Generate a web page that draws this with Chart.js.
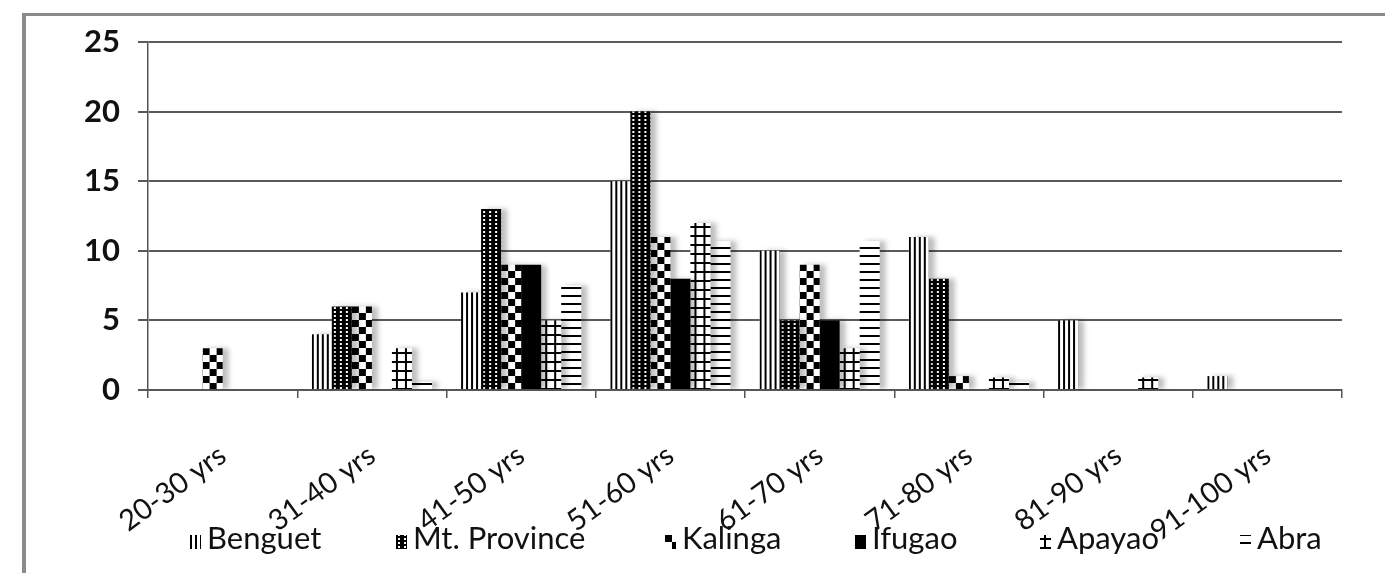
<!DOCTYPE html>
<html>
<head>
<meta charset="utf-8">
<script src="https://cdn.jsdelivr.net/npm/chart.js@4.4.1/dist/chart.umd.min.js"></script>
<style>
  html, body { margin: 0; padding: 0; background: #fff; }
  #wrap { position: relative; width: 1385px; height: 573px; overflow: hidden; }
  #frame { position: absolute; left: 22px; top: 13px; width: 1420px; height: 558px;
           border-left: 4px solid #8a8a8a; border-top: 3px solid #8a8a8a; border-bottom: 1px solid #ddd; }
  #c { position: absolute; left: 0; top: 0; }
</style>
</head>
<body>
<div id="wrap">
  <div id="frame"></div>
  <canvas id="c" width="1385" height="573"></canvas>
</div>
<script>
const AGE_GROUPS  = ['20-30 yrs', '31-40 yrs', '41-50 yrs', '51-60 yrs', '61-70 yrs', '71-80 yrs', '81-90 yrs', '91-100 yrs'];
const BENGUET     = [0, 4, 7, 15, 10, 11, 5, 1];
const MT_PROVINCE = [0, 6, 13, 20, 5, 8, 0, 0];
const KALINGA     = [3, 6, 9, 11, 9, 1, 0, 0];
const IFUGAO      = [0, 0, 9, 8, 5, 0, 0, 0];
const APAYAO      = [0, 3, 5, 12, 3, 0.9, 0.9, 0];
const ABRA        = [0, 0.6, 7.5, 10.7, 10.7, 0.6, 0, 0];
const Y_TICKS     = [0, 5, 10, 15, 20, 25];

const CAT_PCT = 0.805;
const LEGEND_X = [190, 396, 665, 855, 1040, 1240];

// small tiles that mimic the old Excel fill patterns
function tile(kind) {
  const t = document.createElement('canvas');
  const g = t.getContext('2d');
  const sz = { vlines: [5, 5], dots: [6, 4], checker: [14, 14], grid: [20, 9], hlines: [4, 8] }[kind];
  t.width = sz[0]; t.height = sz[1];
  g.fillStyle = '#fff'; g.fillRect(0, 0, t.width, t.height);
  g.fillStyle = '#000';
  if (kind === 'vlines') g.fillRect(0, 0, 2, 5);
  if (kind === 'dots') { g.fillRect(0, 0, 6, 4); g.fillStyle = '#fff'; g.fillRect(2, 1, 2, 2); }
  if (kind === 'checker') { g.fillRect(0, 0, 7, 7); g.fillRect(7, 7, 7, 7); }
  if (kind === 'grid') { g.fillRect(0, 7, 20, 2); g.fillRect(4, 0, 2, 9); g.fillRect(13, 0, 2, 9); }
  if (kind === 'hlines') g.fillRect(0, 1, 4, 2);
  return t;
}
const TILES = {};
['vlines', 'dots', 'checker', 'grid', 'hlines'].forEach(k => TILES[k] = tile(k));

function fillAt(ctx2d, kind, left, bottom) {
  if (kind === 'solid') return '#000';
  const p = ctx2d.createPattern(TILES[kind], 'repeat');
  p.setTransform(new DOMMatrix().translate(left, bottom - TILES[kind].height * 40));
  return p;
}

function barFill(kind) {
  return c => {
    const chart = c.chart;
    const xs = chart.scales.x, ys = chart.scales.y;
    if (c.dataIndex === undefined || !xs || !ys) return kind === 'solid' ? '#000' : '#888';
    const groupW = xs.width / AGE_GROUPS.length * CAT_PCT;
    const bw = groupW / 6;
    const left = xs.getPixelForValue(c.dataIndex) - groupW / 2 + c.datasetIndex * bw;
    return fillAt(chart.ctx, kind, left, ys.getPixelForValue(0));
  };
}

const SERIES = [
  ['Benguet', BENGUET, 'vlines'],
  ['Mt. Province', MT_PROVINCE, 'dots'],
  ['Kalinga', KALINGA, 'checker'],
  ['Ifugao', IFUGAO, 'solid'],
  ['Apayao', APAYAO, 'grid'],
  ['Abra', ABRA, 'hlines']
];

const shadowPlugin = {
  id: 'barShadow',
  beforeDatasetsDraw(chart) {
    const g = chart.ctx;
    g.save();
    g.shadowColor = 'rgba(0,0,0,0.25)';
    g.shadowOffsetX = 6;
    g.shadowBlur = 5;
  },
  afterDatasetsDraw(chart) { chart.ctx.restore(); }
};

const legendPlugin = {
  id: 'bottomLegend',
  afterDraw(chart) {
    const g = chart.ctx;
    g.save();
    g.font = '31px Lato';
    g.textBaseline = 'alphabetic';
    chart.data.datasets.forEach((ds, i) => {
      const x = LEGEND_X[i], base = 549;
      g.fillStyle = fillAt(g, ds.kind, x, base);
      g.fillRect(x, base - 14, 11, 14);
      g.fillStyle = '#111';
      g.fillText(ds.label, x + 17, base);
    });
    g.restore();
  }
};

new Chart(document.getElementById('c'), {
  type: 'bar',
  data: {
    labels: AGE_GROUPS,
    datasets: SERIES.map(([label, data, kind]) => ({
      label, data, kind,
      backgroundColor: barFill(kind),
      borderWidth: 0,
      barPercentage: 1,
      categoryPercentage: CAT_PCT
    }))
  },
  options: {
    responsive: false,
    animation: false,
    layout: { padding: { top: 42, right: 43, bottom: 0, left: 0 } },
    plugins: { legend: { display: false }, tooltip: { enabled: false } },
    scales: {
      x: {
        grid: { drawOnChartArea: false, color: '#555', lineWidth: 1.5, tickLength: 8, offset: true },
        border: { color: '#555', width: 1.5 },
        ticks: { color: '#111', font: { family: 'Lato', size: 29 }, minRotation: 36, maxRotation: 36, autoSkip: false, padding: 40 },
        afterFit: s => { s.height = 183; }
      },
      y: {
        min: 0, max: 25,
        afterBuildTicks: s => { s.ticks = Y_TICKS.map(v => ({ value: v })); },
        grid: { color: '#5a5a5a', lineWidth: 2, tickLength: 10 },
        border: { color: '#555', width: 1.5 },
        ticks: { color: '#111', font: { family: 'Lato', size: 31, weight: 'bold' }, padding: 18 },
        afterFit: s => { s.width = 148; }
      }
    }
  },
  plugins: [shadowPlugin, legendPlugin]
});
</script>
</body>
</html>
